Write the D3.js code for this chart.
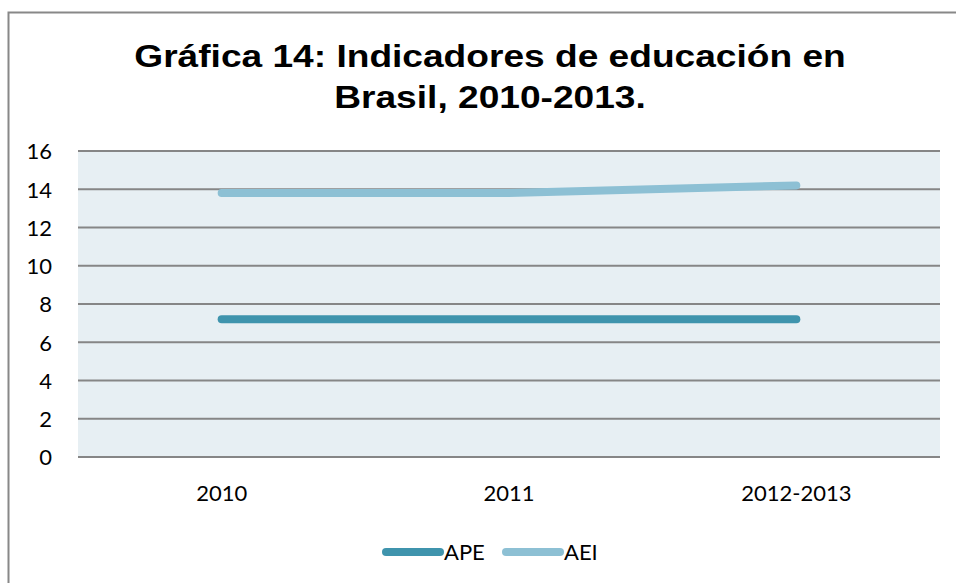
<!DOCTYPE html>
<html><head><meta charset="utf-8">
<script src="https://cdn.jsdelivr.net/npm/d3@7/dist/d3.min.js"></script>
<style>body{margin:0;background:#fff;}svg{display:block;}</style>
</head><body>
<svg id="c" width="956" height="583"></svg>
<script>
const categories = ["2010", "2011", "2012-2013"];
const seriesNames = ["APE", "AEI"];
const apeValues = [7.2, 7.2, 7.2];
const aeiValues = [13.8, 13.8, 14.2];
const yTicks = [0, 2, 4, 6, 8, 10, 12, 14, 16];
const titleLines = ["Gráfica 14: Indicadores de educación en", "Brasil, 2010-2013."];
const colors = {APE: "#3F94AD", AEI: "#8DC0D4"};

const svg = d3.select("#c");
const labelFont = "Lato, 'Open Sans', sans-serif";
// outer frame (only top/left visible)
svg.append("rect").attr("x", 8.5).attr("y", 12.5).attr("width", 1000).attr("height", 1000)
  .attr("fill", "#fff").attr("stroke", "#888").attr("stroke-width", 2);

const L = 78, R = 940, T = 151, B = 457;
const x = d3.scaleBand().domain(categories).range([L, R]);
const y = d3.scaleLinear().domain([0, 16]).range([B, T]);

svg.append("rect").attr("x", L).attr("y", T).attr("width", R - L).attr("height", B - T).attr("fill", "#E7EFF3");

svg.append("g").selectAll("line").data(yTicks).join("line")
  .attr("x1", L).attr("x2", R).attr("y1", d => y(d)).attr("y2", d => y(d))
  .attr("stroke", "#868686").attr("stroke-width", 2);

const yAxis = d3.axisLeft(y).tickValues(yTicks).tickSize(0).tickPadding(0);
const gy = svg.append("g").attr("transform", `translate(52,0)`).call(yAxis);
gy.select(".domain").remove();
gy.selectAll("text").attr("font-family", labelFont).attr("font-size", 22).attr("fill", "#000").attr("dy", "0.36em");

const xAxis = d3.axisBottom(x).tickSize(0).tickPadding(0);
const gx = svg.append("g").attr("transform", `translate(0,${B + 36})`).call(xAxis);
gx.select(".domain").remove();
gx.selectAll("text").attr("font-family", labelFont).attr("font-size", 22).attr("fill", "#000").attr("dy", "0.36em");

const line = d3.line().x((d, i) => x(categories[i]) + x.bandwidth() / 2).y(d => y(d));
const data = {APE: apeValues, AEI: aeiValues};
seriesNames.forEach(n => {
  svg.append("path").attr("d", line(data[n])).attr("fill", "none")
    .attr("stroke", colors[n]).attr("stroke-width", 8).attr("stroke-linecap", "round").attr("stroke-linejoin", "round");
});

svg.append("text").attr("transform", "translate(490,0) scale(1.16,1)").attr("text-anchor", "middle")
  .attr("font-family", "'Liberation Sans', Arial, sans-serif").attr("font-weight", "bold").attr("font-size", 32)
  .selectAll("tspan").data(titleLines).join("tspan")
  .attr("x", 0).attr("y", (d, i) => 67 + i * 41).text(d => d);

// legend
const legX = [386, 506];
seriesNames.forEach((n, i) => {
  svg.append("line").attr("x1", legX[i]).attr("x2", legX[i] + 54).attr("y1", 552).attr("y2", 552)
    .attr("stroke", colors[n]).attr("stroke-width", 8).attr("stroke-linecap", "round");
  svg.append("text").attr("x", legX[i] + 58).attr("y", 552).attr("dy", "0.36em")
    .attr("font-family", labelFont).attr("font-size", 22).text(n);
});
</script>
</body></html>
